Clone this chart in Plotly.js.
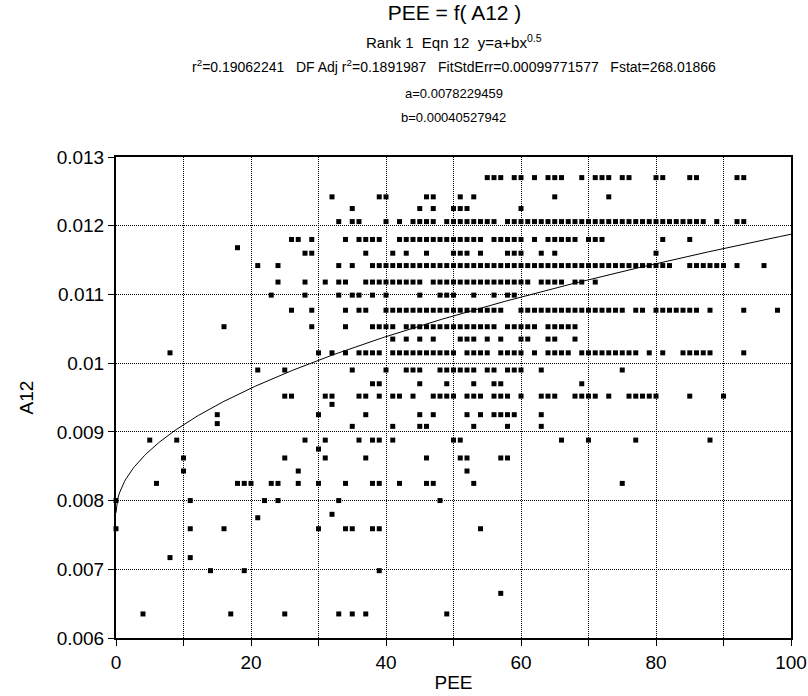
<!DOCTYPE html>
<html><head><meta charset="utf-8">
<script src="https://cdn.plot.ly/plotly-3.0.1.min.js"></script>
<style>html,body{margin:0;padding:0;background:#fff}#chart{width:808px;height:696px}</style>
</head><body><div id="chart"></div>
<script>
// Fit parameters (as printed on the chart)
const fitA = 0.0078229459;
const fitB = 0.00040527942;

// Observed points: each A12 level with the PEE values found at it
const lvl_01270 = [55,56,57,59,60,62,64,65,66,69,71,72,73,75,76,80,81,85,86,92,93];
const lvl_01242 = [32,39,40,46,47,51,53,65,73];
const lvl_01225 = [35,45,47,50,51,52,60];
const lvl_01206 = [33,35,36,40,42,44,45,46,47,49,50,51,52,53,54,55,56,58,59,60,61,62,63,64,65,66,67,68,69,70,71,72,73,74,75,76,77,78,79,80,81,82,83,84,85,86,87,89,92,93];
const lvl_01180 = [26,27,29,34,36,37,38,39,42,43,44,45,46,47,48,49,50,51,52,53,54,56,57,58,59,60,62,64,65,66,67,68,70,71,72,81,85];
const lvl_01168 = [18];
const lvl_01160 = [28,29,37,41,43,46,50,51,52,54,58,59,60,63,65,80];
const lvl_01142 = [21,24,33,35,38,39,40,41,42,43,44,45,46,47,48,49,50,51,52,53,54,55,56,57,58,59,60,61,62,63,64,65,66,67,68,69,70,71,72,73,74,75,76,77,78,79,80,81,82,85,86,87,88,89,90,92,96];
const lvl_01118 = [24,28,31,33,34,37,38,39,40,41,42,43,44,45,47,48,49,50,51,52,53,54,55,56,57,58,59,60,61,63,64,65,66,68,69,71];
const lvl_01099 = [23,28,33,35,36,38,40,45,48,49,50,53,56,58,59];
const lvl_01077 = [26,29,34,36,37,40,41,42,43,44,45,46,47,48,49,50,51,52,53,54,55,56,57,60,61,62,63,64,65,66,67,68,69,70,71,72,73,74,75,77,78,80,81,82,83,84,85,86,88,93,98];
const lvl_01053 = [16,29,34,38,39,40,41,43,44,45,46,47,48,49,50,51,52,53,54,55,56,58,59,60,61,62,64,65,66,67,68];
const lvl_01035 = [41,43,45,47,51,52,53,55,57,60,61,64,65,68];
const lvl_01015 = [8,30,32,34,36,37,38,39,41,42,43,44,45,46,47,48,49,50,52,53,54,55,57,58,59,60,62,64,65,66,67,69,70,71,72,73,74,75,76,77,79,81,84,85,86,87,88,93];
const lvl_00990 = [21,25,35,40,43,44,45,48,49,50,51,52,53,55,56,58,59,60,63,75];
const lvl_00970 = [38,39,45,49,53,56,57,69];
const lvl_00952 = [25,26,31,32,36,37,39,41,42,44,47,48,49,50,52,53,54,56,57,58,60,63,64,65,68,69,70,71,73,76,77,78,79,80,85,90];
const lvl_00940 = [32];
const lvl_00925 = [15,30,37,45,47,52,54,56,57,58,59,63];
const lvl_00912 = [15];
const lvl_00908 = [35,41,45,46,53,58,63];
const lvl_00888 = [5,9,28,31,36,38,39,41,50,51,66,70,77,88];
const lvl_00875 = [30];
const lvl_00862 = [10,25,31,37,46,51,52,57,58];
const lvl_00843 = [10,27,52];
const lvl_00825 = [6,18,19,20,23,24,27,30,34,38,39,42,46,47,53,75];
const lvl_00800 = [0,11,22,24,33,48];
const lvl_00780 = [32];
const lvl_00775 = [21];
const lvl_00759 = [0,11,16,30,34,35,38,39,54];
const lvl_00717 = [8,11];
const lvl_00698 = [14,19,39];
const lvl_00665 = [57];
const lvl_00635 = [4,17,25,33,35,37,49];

const levelValues = [0.01270,0.01242,0.01225,0.01206,0.01180,0.01168,0.01160,0.01142,0.01118,0.01099,0.01077,0.01053,0.01035,0.01015,0.00990,0.00970,0.00952,0.00940,0.00925,0.00912,0.00908,0.00888,0.00875,0.00862,0.00843,0.00825,0.00800,0.00780,0.00775,0.00759,0.00717,0.00698,0.00665,0.00635];
const levelPEE = [lvl_01270,lvl_01242,lvl_01225,lvl_01206,lvl_01180,lvl_01168,lvl_01160,lvl_01142,lvl_01118,lvl_01099,lvl_01077,lvl_01053,lvl_01035,lvl_01015,lvl_00990,lvl_00970,lvl_00952,lvl_00940,lvl_00925,lvl_00912,lvl_00908,lvl_00888,lvl_00875,lvl_00862,lvl_00843,lvl_00825,lvl_00800,lvl_00780,lvl_00775,lvl_00759,lvl_00717,lvl_00698,lvl_00665,lvl_00635];

const xTickVals = [0,20,40,60,80,100];
const xTickText = ['0','20','40','60','80','100'];
const xMinorVals = [10,30,50,70,90];
const yTickVals = [0.006,0.007,0.008,0.009,0.010,0.011,0.012,0.013];
const yTickText = ['0.006','0.007','0.008','0.009','0.01','0.011','0.012','0.013'];

const px = [], py = [];
levelValues.forEach((v, i) => levelPEE[i].forEach(x => { px.push(x); py.push(v); }));

// Fitted curve y = a + b*x^0.5 from the printed parameters
const fx = [], fy = [];
for (let i = 0; i <= 400; i++) { const x = i * 0.25; fx.push(x); fy.push(fitA + fitB * Math.sqrt(x)); }

const font = 'Arial, "Liberation Sans", sans-serif';

const traces = [
  {x: fx, y: fy, type: 'scatter', mode: 'lines', line: {color: '#000', width: 1}, hoverinfo: 'skip', cliponaxis: true},
  {x: px, y: py, type: 'scatter', mode: 'markers', marker: {symbol: 'square', size: 5, color: '#000', line: {width: 0}}, cliponaxis: false}
];

const gridStyle = {showgrid: true, gridcolor: '#000', gridwidth: 1, griddash: '1px,1px'};
const axisCommon = Object.assign({}, gridStyle, {
  showline: true, linecolor: '#000', linewidth: 2, mirror: true,
  ticks: 'outside', ticklen: 6, tickwidth: 1, tickcolor: '#000',
  zeroline: false, tickfont: {family: font, size: 19, color: '#000'},
  automargin: false
});

const layout = {
  width: 808, height: 696,
  paper_bgcolor: '#fff', plot_bgcolor: '#fff',
  showlegend: false,
  margin: {l: 116, r: 17, t: 157, b: 58},
  title: {text: 'PEE = f( A12 )', x: 0.5625, xanchor: 'center', y: 1 - 13/696, yanchor: 'middle', yref: 'container',
          font: {family: font, size: 21, color: '#000'}},
  xaxis: Object.assign({}, axisCommon, {
    range: [0, 100], tickmode: 'array', tickvals: xTickVals, ticktext: xTickText,
    minor: Object.assign({}, gridStyle, {tickmode: 'array', tickvals: xMinorVals, ticks: 'outside', ticklen: 6, tickwidth: 1, tickcolor: '#000'}),
    title: {text: 'PEE', font: {family: font, size: 19, color: '#000'}, standoff: 4}
  }),
  yaxis: Object.assign({}, axisCommon, {
    range: [0.006, 0.013], tickmode: 'array', tickvals: yTickVals, ticktext: yTickText,
    title: {text: 'A12', font: {family: font, size: 19, color: '#000'}, standoff: 18}
  }),
  annotations: [
    {text: 'Rank 1&nbsp;&nbsp;Eqn 12&nbsp;&nbsp;y=a+bx<sup>0.5</sup>', xref: 'paper', yref: 'paper', x: 0.5, y: (638-41)/481, showarrow: false, yanchor: 'middle', font: {family: font, size: 15, color: '#000'}},
    {text: 'r<sup>2</sup>=0.19062241&nbsp;&nbsp; DF Adj r<sup>2</sup>=0.1891987&nbsp;&nbsp; FitStdErr=0.00099771577&nbsp;&nbsp; Fstat=268.01866', xref: 'paper', yref: 'paper', x: 0.5, y: (638-66)/481, showarrow: false, yanchor: 'middle', font: {family: font, size: 14, color: '#000'}},
    {text: 'a=0.0078229459', xref: 'paper', yref: 'paper', x: 0.5, y: (638-93)/481, showarrow: false, yanchor: 'middle', font: {family: font, size: 13, color: '#000'}},
    {text: 'b=0.00040527942', xref: 'paper', yref: 'paper', x: 0.5, y: (638-118)/481, showarrow: false, yanchor: 'middle', font: {family: font, size: 13, color: '#000'}}
  ]
};

Plotly.newPlot('chart', traces, layout, {displayModeBar: false, staticPlot: true});
</script>
</body></html>
